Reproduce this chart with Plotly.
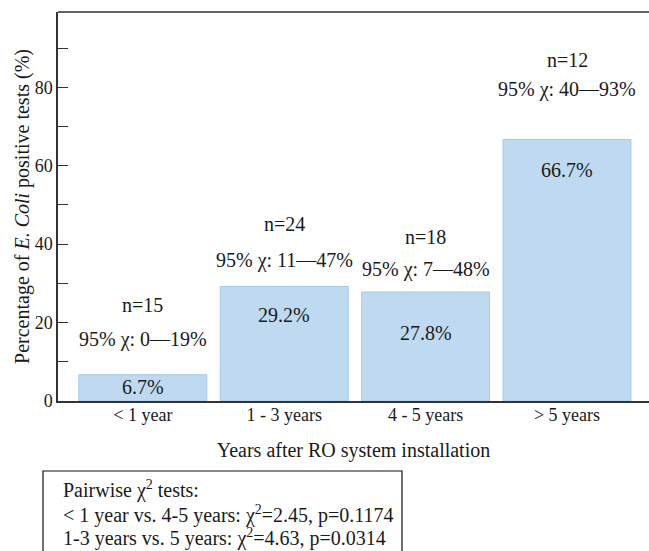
import plotly.graph_objects as go

# Share of E. coli positive tests by system age
categories = ["< 1 year", "1 - 3 years", "4 - 5 years", "> 5 years"]
positive_pct = [6.7, 29.2, 27.8, 66.7]
sample_n = [15, 24, 18, 12]
ci_low = [0, 11, 7, 40]
ci_high = [19, 47, 48, 93]
y_ticks = [0, 20, 40, 60, 80]

pairwise_lines = [
    "Pairwise χ<sup>2</sup> tests:",
    "< 1 year vs. 4-5 years: χ<sup>2</sup>=2.45, p=0.1174",
    "1-3 years vs. 5 years: χ<sup>2</sup>=4.63, p=0.0314",
]

FONT = "Liberation Serif"
TXT = "#1a1a1a"
AX = "#333333"

# figure geometry (px)
W, H = 649, 551
M_L, M_R, M_T, M_B = 58, 0, 12, 150
PW = W - M_L - M_R
PH = H - M_T - M_B


def px_x(px):
    return (px - M_L) / PW


def px_y(py):
    return (H - M_B - py) / PH


# pixel offsets for the labels around each bar
ci_shift = [35, 26, 22, 50]
n_shift = [70, 63, 55, 79]
val_shift = [12, 28, 41, 31]

fig = go.Figure()
fig.add_trace(go.Bar(
    x=list(range(len(categories))),
    y=positive_pct,
    width=0.905,
    marker=dict(color="#bfdaf0", line=dict(color="#a6c9e8", width=1)),
    hoverinfo="skip",
))

annotations = []
for i, v in enumerate(positive_pct):
    annotations.append(dict(x=i, y=v, xref="x", yref="y", text=f"{v:.1f}%",
                            showarrow=False, yshift=-val_shift[i],
                            font=dict(family=FONT, size=20, color=TXT)))
    annotations.append(dict(x=i, y=v, xref="x", yref="y",
                            text=f"95% χ: {ci_low[i]}—{ci_high[i]}%",
                            showarrow=False, yshift=ci_shift[i],
                            font=dict(family=FONT, size=20, color=TXT)))
    annotations.append(dict(x=i, y=v, xref="x", yref="y", text=f"n={sample_n[i]}",
                            showarrow=False, yshift=n_shift[i],
                            font=dict(family=FONT, size=20, color=TXT)))

# pairwise test box below the axis
line_centres = [489, 514, 537]
for line, cy in zip(pairwise_lines, line_centres):
    annotations.append(dict(
        x=px_x(61), y=px_y(cy), xref="paper", yref="paper",
        xanchor="left", yanchor="middle", text=line, showarrow=False,
        font=dict(family=FONT, size=20, color=TXT),
    ))

shapes = [
    dict(type="line", xref="paper", yref="paper", x0=0, x1=1, y0=1, y1=1,
         line=dict(color=AX, width=1.5)),
    dict(type="rect", xref="paper", yref="paper",
         x0=px_x(43), x1=px_x(402), y0=px_y(471), y1=px_y(560),
         line=dict(color="#111111", width=1.2), fillcolor="rgba(0,0,0,0)"),
]

fig.update_layout(
    width=W, height=H,
    margin=dict(l=M_L, r=M_R, t=M_T, b=M_B),
    paper_bgcolor="white", plot_bgcolor="white",
    showlegend=False,
    font=dict(family=FONT, size=18, color=TXT),
    annotations=annotations,
    shapes=shapes,
)
fig.update_xaxes(
    range=[-0.6, 3.58],
    tickmode="array", tickvals=list(range(len(categories))), ticktext=categories,
    ticks="", showgrid=False, zeroline=False,
    showline=True, linecolor=AX, linewidth=1.5,
    ticklabelstandoff=-3,
    tickfont=dict(family=FONT, size=18, color=TXT),
    title=dict(text="Years after RO system installation", standoff=19,
               font=dict(family=FONT, size=20, color=TXT)),
)
fig.update_yaxes(
    range=[0, 99.2],
    tickmode="array", tickvals=y_ticks,
    ticks="inside", ticklen=10, tickwidth=1.2, tickcolor=AX,
    minor=dict(dtick=10, tick0=0, ticks="inside", ticklen=10, tickwidth=1.2, tickcolor=AX),
    showgrid=False, zeroline=False,
    showline=True, linecolor=AX, linewidth=1.5,
    tickfont=dict(family=FONT, size=18, color=TXT),
    title=dict(text="Percentage of <i>E. Coli</i> positive tests (%)", standoff=0,
               font=dict(family=FONT, size=20, color=TXT)),
)

fig.write_html("out.html")
